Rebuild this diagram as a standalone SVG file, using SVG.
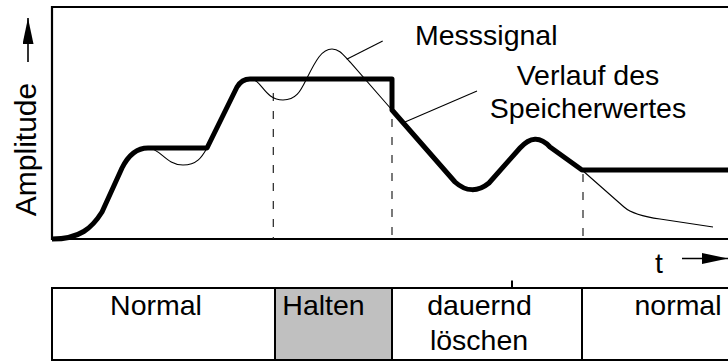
<svg xmlns="http://www.w3.org/2000/svg" width="728" height="361" viewBox="0 0 728 361">
  <style>
    .lbl { font-family: "Liberation Sans", Arial, Helvetica, sans-serif; font-size: 28.5px; fill: #000; }
    .frame { fill: none; stroke: #000; stroke-width: 2.2; }
    .store { fill: none; stroke: #000; stroke-width: 5; stroke-linejoin: round; stroke-linecap: butt; }
    .signal { fill: none; stroke: #000; stroke-width: 1.1; }
    .dash { stroke: #222; stroke-width: 1.2; stroke-dasharray: 8 10; }
    .leader { stroke: #000; stroke-width: 1.1; }
    .axis { stroke: #000; stroke-width: 1.6; }
  </style>
  <defs>
    <marker id="head" markerUnits="userSpaceOnUse" markerWidth="26" markerHeight="11" refX="26" refY="5.5" orient="auto">
      <path d="M0,0 L26,5.5 L0,11 Z" fill="#000"/>
    </marker>
  </defs>

  <rect width="728" height="361" fill="#fff"/>

  <!-- plot frame (open on the right) -->
  <g id="plot-frame">
    <path class="frame" d="M728,7 L52,7 L52,239 L728,239"/>
  </g>

  <!-- axis labels -->
  <g id="y-axis">
    <line class="axis" x1="28" y1="62" x2="28" y2="18" marker-end="url(#head)"/>
    <text class="lbl" transform="translate(36,149.5) rotate(-90)" text-anchor="middle" style="font-size:30px">Amplitude</text>
  </g>
  <g id="x-axis">
    <text class="lbl" x="659" y="273" text-anchor="middle">t</text>
    <line class="axis" x1="682" y1="258.5" x2="728" y2="258.5" marker-end="url(#head)"/>
  </g>

  <!-- phase boundaries -->
  <g id="boundaries">
    <line class="dash" x1="273.3" y1="93" x2="273.3" y2="239"/>
    <line class="dash" x1="392" y1="119" x2="392" y2="239"/>
    <line class="dash" x1="583" y1="174" x2="583" y2="239"/>
  </g>

  <!-- measured signal (thin) -->
  <g id="messsignal-curve">
    <path class="signal" d="M52,239 C80,239 92,228 102,212 L122,168 C128,156 136,148 148,148 C160,148 166,165 183,165 C197,165 202,157 207,148 L237,87 C240,82 244,79 250,79 C262,79 264,100 283,100 C297,100 301,90 307,78 C316,60 322,49 332,49 C340,49 344,56 350,62 L392,110 L455,182 C466,192 478,192 489,183 L520,148 C530,137 540,136 550,147 L582,170 L624,207 C632,214 645,217 660,219 L713,227"/>
  </g>

  <!-- stored value (thick) -->
  <g id="speicherwert-curve">
    <path class="store" d="M52,239 C80,239 92,228 102,212 L122,168 C128,156 136,148 148,148 L207,148 L237,87 C240,82 244,79 250,79 L392,79 L392,110 L455,182 C466,192 478,192 489,183 L520,148 C530,137 540,136 550,147 L582,170 L728,170"/>
  </g>

  <!-- curve labels -->
  <g id="label-messsignal">
    <text class="lbl" x="415" y="45">Messsignal</text>
  </g>
  <g id="label-speicherwert">
    <text class="lbl" x="588" y="85" text-anchor="middle">Verlauf des</text>
    <text class="lbl" x="588" y="118" text-anchor="middle">Speicherwertes</text>
  </g>

  <!-- leader lines -->
  <g id="connectors">
    <line class="leader" x1="382.7" y1="41" x2="346.7" y2="59.3"/>
    <line class="leader" x1="477" y1="91" x2="405" y2="122"/>
  </g>

  <!-- operating phases table -->
  <g id="phase-normal">
    <rect x="52" y="288" width="223" height="72" fill="#fff" stroke="#000" stroke-width="2"/>
    <text class="lbl" x="156" y="315" text-anchor="middle">Normal</text>
  </g>
  <g id="phase-halten">
    <rect x="275" y="288" width="117" height="72" fill="#c0c0c0" stroke="#000" stroke-width="2"/>
    <text class="lbl" x="323.5" y="315" text-anchor="middle">Halten</text>
  </g>
  <g id="phase-loeschen">
    <rect x="392" y="288" width="190" height="72" fill="#fff" stroke="#000" stroke-width="2"/>
    <text class="lbl" x="479.5" y="315" text-anchor="middle">dauernd</text>
    <text class="lbl" x="479" y="350" text-anchor="middle">löschen</text>
  </g>
  <g id="phase-normal-2">
    <path d="M728,288 L582,288 L582,360 L728,360" fill="#fff" stroke="#000" stroke-width="2"/>
    <text class="lbl" x="678" y="315" text-anchor="middle">normal</text>
  </g>
  <g id="tick">
    <line x1="512" y1="280.5" x2="512" y2="288" stroke="#000" stroke-width="2"/>
  </g>
</svg>
